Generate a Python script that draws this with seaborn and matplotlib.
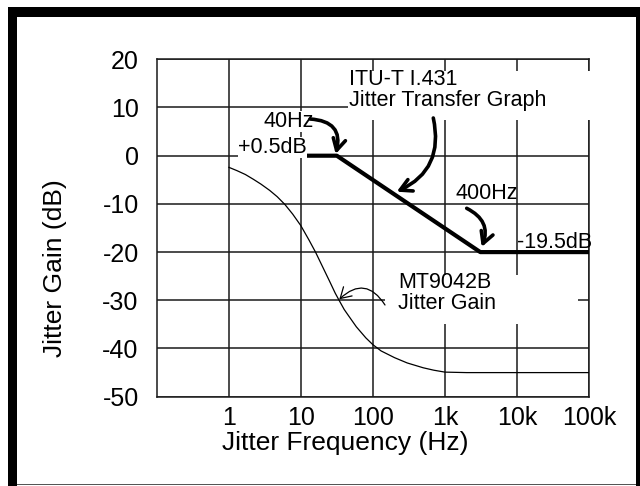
import matplotlib
matplotlib.use("Agg")
import matplotlib.pyplot as plt
from matplotlib.patches import Rectangle
import seaborn as sns
import pandas as pd

# ---- data ----
itu_freq = [10, 31.6, 3100, 100000]
itu_gain = [0, 0, -20, -20]

mt_freq = [1, 1.3, 1.7, 2.2, 2.8, 3.7, 4.7, 6, 7.7, 10, 13, 16, 20, 25, 30, 34, 40, 45,
           59, 80, 100, 130, 200, 300, 500, 700, 1000, 2000, 100000]
mt_gain = [-2.4, -3.1, -3.9, -4.9, -5.9, -7.2, -8.5, -10.1, -12.1, -14.5, -17.5, -20,
           -23, -26, -28.5, -30, -31.9, -33, -35.5, -37.8, -39.2, -40.5, -41.9, -43.0,
           -44.0, -44.5, -44.9, -45, -45]

x_ticks = [1, 10, 100, 1000, 10000, 100000]
x_tick_labels = ["1", "10", "100", "1k", "10k", "100k"]
y_ticks = [-50, -40, -30, -20, -10, 0, 10, 20]

sns.set_style("white")
plt.rcParams["font.family"] = ["Liberation Sans", "DejaVu Sans"]
plt.rcParams["axes.unicode_minus"] = False

W, H = 640, 486
fig = plt.figure(figsize=(W / 100, H / 100), dpi=100)

# axes placement (pixels)
AX_L, AX_R, AX_T, AX_B = 156.7, 589.0, 59.3, 396.7
ax = fig.add_axes([AX_L / W, 1 - AX_B / H, (AX_R - AX_L) / W, (AX_B - AX_T) / H])


def af(x, y):
    """pixel -> axes fraction"""
    return ((x - AX_L) / (AX_R - AX_L), 1 - (y - AX_T) / (AX_B - AX_T))


itu_df = pd.DataFrame({"freq": itu_freq, "gain": itu_gain})
mt_df = pd.DataFrame({"freq": mt_freq, "gain": mt_gain})

sns.lineplot(data=mt_df, x="freq", y="gain", ax=ax, color="black", lw=0.9,
             sort=False, zorder=3)
sns.lineplot(data=itu_df, x="freq", y="gain", ax=ax, color="black", lw=3.0,
             sort=False, zorder=4, solid_capstyle="butt")

ax.set_xscale("log")
ax.set_xlim(0.1, 100000)
ax.set_ylim(-50, 20)
ax.set_xticks(x_ticks)
ax.set_xticklabels(x_tick_labels)
ax.minorticks_off()
ax.set_yticks(y_ticks)
ax.tick_params(axis="both", length=0, labelsize=18, colors="black")
ax.tick_params(axis="y", pad=13)
ax.tick_params(axis="x", pad=7)
ax.grid(True, color="#1a1a1a", lw=1.1)
for s in ax.spines.values():
    s.set_color("#1a1a1a")
    s.set_linewidth(1.1)

ax.set_xlabel("Jitter Frequency (Hz)", fontsize=19, color="black")
ax.set_ylabel("Jitter Gain (dB)", fontsize=19, color="black")
ax.xaxis.set_label_coords(*af(345, 443))
ax.xaxis.label.set_va("center")
ax.yaxis.set_label_coords(*af(55, 268))
ax.yaxis.label.set_va("center")

# white masks behind annotation blocks
(x0, y1) = af(348, 71.5)
(x1, y0) = af(605, 120)
ax.add_patch(Rectangle((x0, y0), x1 - x0, y1 - y0, transform=ax.transAxes,
                       facecolor="white", edgecolor="none", zorder=2.6, clip_on=False))
(x0, y1) = af(385, 275)
(x1, y0) = af(578, 324)
ax.add_patch(Rectangle((x0, y0), x1 - x0, y1 - y0, transform=ax.transAxes,
                       facecolor="white", edgecolor="none", zorder=2.6, clip_on=False))

fs = 15.5
txt_kw = dict(transform=ax.transAxes, fontsize=fs, color="black", zorder=5)
ax.text(*af(349, 79), "ITU-T I.431", ha="left", va="center", **txt_kw)
ax.text(*af(349, 100), "Jitter Transfer Graph", ha="left", va="center", **txt_kw)
ax.text(*af(398, 282.5), "MT9042B", ha="left", va="center", **txt_kw)
ax.text(*af(398, 303.5), "Jitter Gain", ha="left", va="center", **txt_kw)
box = dict(facecolor="white", edgecolor="none", pad=0)
ax.text(*af(263, 121.7), "40Hz", ha="left", va="center", bbox=box, **txt_kw)
ax.text(*af(238, 147), "+0.5dB", ha="left", va="center", bbox=box, **txt_kw)
ax.text(*af(455, 193.3), "400Hz", ha="left", va="center", **txt_kw)
ax.text(*af(517, 242.7), "-19.5dB", ha="left", va="center", **txt_kw)

thick = dict(arrowstyle="->,head_length=0.55,head_width=0.3", lw=2.6, color="black",
             shrinkA=0, shrinkB=0, mutation_scale=15)
ax.annotate("", xy=af(335.7, 154), xytext=af(310, 119), xycoords="axes fraction",
            textcoords="axes fraction", zorder=6,
            arrowprops=dict(connectionstyle="arc3,rad=-0.6", **thick))
ax.annotate("", xy=af(396.7, 191.7), xytext=af(433.3, 118), xycoords="axes fraction",
            textcoords="axes fraction", zorder=6,
            arrowprops=dict(connectionstyle="arc3,rad=-0.4", **thick))
ax.annotate("", xy=af(481.7, 247), xytext=af(466.7, 208.3), xycoords="axes fraction",
            textcoords="axes fraction", zorder=6,
            arrowprops=dict(connectionstyle="arc3,rad=-0.45", **thick))
ax.annotate("", xy=af(339.3, 299.3), xytext=af(385, 305), xycoords="axes fraction",
            textcoords="axes fraction", zorder=6,
            arrowprops=dict(arrowstyle="->,head_length=0.5,head_width=0.3", lw=0.9,
                            color="black", shrinkA=0, shrinkB=0, mutation_scale=15,
                            connectionstyle="arc3,rad=0.6"))

# outer frame
def fr(x, y, w, h, c="black"):
    fig.patches.append(Rectangle((x / W, 1 - (y + h) / H), w / W, h / H,
                                 transform=fig.transFigure, facecolor=c,
                                 edgecolor="none", zorder=10))

fr(8, 7, 9, 479)
fr(8, 7, 632, 10)
fr(636, 7, 4, 479)
fr(17, 483.5, 619, 1.5, "#555555")

fig.savefig("out.png", dpi=100)
